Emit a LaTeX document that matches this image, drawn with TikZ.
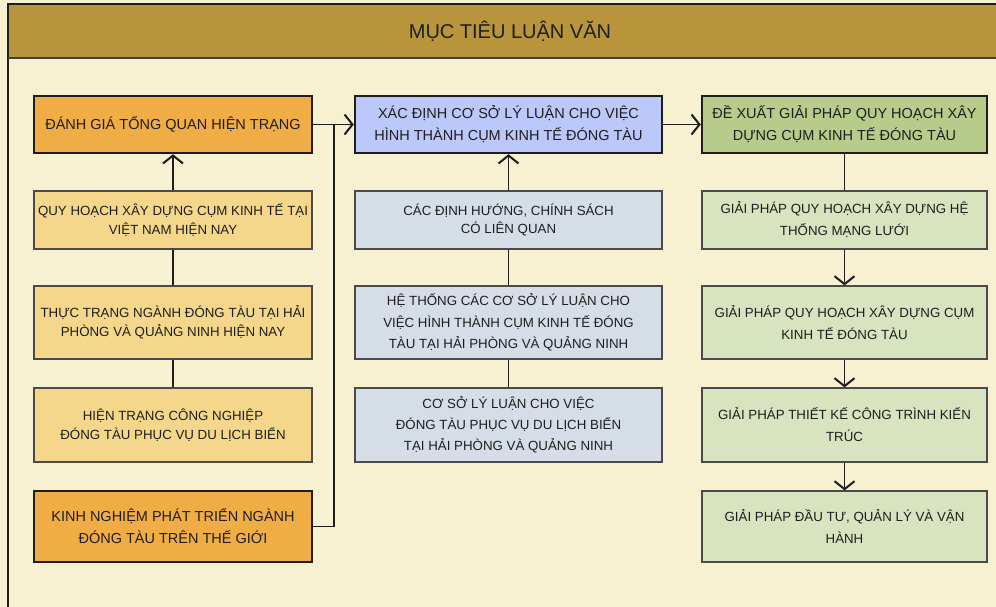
\documentclass[tikz,border=0pt]{standalone}
\usepackage{fontspec}
\setmainfont{Liberation Sans}
\usetikzlibrary{arrows.meta}

\definecolor{pagebg}{HTML}{F7F1D2}
\definecolor{bandgold}{HTML}{B8943A}
\definecolor{orangebox}{HTML}{F0AC45}
\definecolor{yellowbox}{HTML}{F4D78B}
\definecolor{bluehead}{HTML}{BCC8F9}
\definecolor{greyblue}{HTML}{D5DEE6}
\definecolor{greenhead}{HTML}{B7CB8B}
\definecolor{lightgreen}{HTML}{D8E4BF}
\definecolor{inkdark}{HTML}{1E1E1E}
\definecolor{edgegrey}{HTML}{4A4A4A}

\tikzset{
  headbox/.style={draw=inkdark, line width=2.4pt, rectangle, inner sep=0pt,
    align=center, text=inkdark, font=\fontsize{14.5}{22}\selectfont},
  subbox/.style={draw=edgegrey, line width=1.1pt, rectangle, inner sep=0pt,
    align=center, text=inkdark, font=\fontsize{13.3}{18.5}\selectfont},
  leftcol/.style={minimum width=278pt},
  midcol/.style={minimum width=307pt},
  rightcol/.style={minimum width=285pt},
  link/.style={draw=inkdark, line width=1.1pt},
  flow/.style={link, -{Straight Barb[length=8pt, width=20pt, line width=2pt]}},
}

\begin{document}
\begin{tikzpicture}[x=1pt, y=-1pt]
  % page and frame
  \useasboundingbox (0,0) rectangle (996,607);
  \fill[pagebg] (0,0) rectangle (996,607);
  \draw[edgegrey, line width=1.2pt] (8,59) -- (8,610);
  \fill[bandgold] (8,4) rectangle (1000,58);
  \draw[inkdark, line width=1.3pt] (8,610) -- (8,4) -- (1000,4);
  \draw[inkdark!85, line width=2pt] (8,58) -- (1000,58);
  \node[text=inkdark, font=\fontsize{20}{24}\selectfont] (title) at (510,31) {MỤC TIÊU LUẬN VĂN};

  % left column
  \node[headbox, leftcol, fill=orangebox, minimum height=57pt] (L1) at (173,124.5)
    {ĐÁNH GIÁ TỔNG QUAN HIỆN TRẠNG};
  \node[subbox, leftcol, fill=yellowbox, minimum height=58pt] (L2) at (173,220)
    {QUY HOẠCH XÂY DỰNG CỤM KINH TẾ TẠI\\VIỆT NAM HIỆN NAY};
  \node[subbox, leftcol, fill=yellowbox, minimum height=73pt] (L3) at (173,322.5)
    {THỰC TRẠNG NGÀNH ĐÓNG TÀU TẠI HẢI\\PHÒNG VÀ QUẢNG NINH HIỆN NAY};
  \node[subbox, leftcol, fill=yellowbox, minimum height=74pt] (L4) at (173,425)
    {HIỆN TRẠNG CÔNG NGHIỆP\\ĐÓNG TÀU PHỤC VỤ DU LỊCH BIỂN};
  \node[headbox, leftcol, fill=orangebox, minimum height=71pt] (L5) at (173,526.5)
    {KINH NGHIỆM PHÁT TRIỂN NGÀNH\\ĐÓNG TÀU TRÊN THẾ GIỚI};

  % middle column
  \node[headbox, midcol, fill=bluehead, minimum height=57pt] (M1) at (508.5,124.5)
    {XÁC ĐỊNH CƠ SỞ LÝ LUẬN CHO VIỆC\\HÌNH THÀNH CỤM KINH TẾ ĐÓNG TÀU};
  \node[subbox, midcol, fill=greyblue, minimum height=58pt] (M2) at (508.5,220)
    {CÁC ĐỊNH HƯỚNG, CHÍNH SÁCH\\CÓ LIÊN QUAN};
  \node[subbox, midcol, fill=greyblue, minimum height=73pt,
    font=\fontsize{13.3}{21.7}\selectfont] (M3) at (508.5,322.5)
    {HỆ THỐNG CÁC CƠ SỞ LÝ LUẬN CHO\\VIỆC HÌNH THÀNH CỤM KINH TẾ ĐÓNG\\TÀU TẠI HẢI PHÒNG VÀ QUẢNG NINH};
  \node[subbox, midcol, fill=greyblue, minimum height=74pt,
    font=\fontsize{13.3}{21}\selectfont] (M4) at (508.5,425)
    {CƠ SỞ LÝ LUẬN CHO VIỆC\\ĐÓNG TÀU PHỤC VỤ DU LỊCH BIỂN\\TẠI HẢI PHÒNG VÀ QUẢNG NINH};

  % right column
  \node[headbox, rightcol, fill=greenhead, minimum height=57pt] (R1) at (844.5,124.5)
    {ĐỀ XUẤT GIẢI PHÁP QUY HOẠCH XÂY\\DỰNG CỤM KINH TẾ ĐÓNG TÀU};
  \node[subbox, rightcol, fill=lightgreen, minimum height=58pt,
    font=\fontsize{13.3}{22}\selectfont] (R2) at (844.5,220)
    {GIẢI PHÁP QUY HOẠCH XÂY DỰNG HỆ\\THỐNG MẠNG LƯỚI};
  \node[subbox, rightcol, fill=lightgreen, minimum height=73pt,
    font=\fontsize{13.3}{22}\selectfont] (R3) at (844.5,322.5)
    {GIẢI PHÁP QUY HOẠCH XÂY DỰNG CỤM\\KINH TẾ ĐÓNG TÀU};
  \node[subbox, rightcol, fill=lightgreen, minimum height=74pt,
    font=\fontsize{13.3}{22}\selectfont] (R4) at (844.5,425)
    {GIẢI PHÁP THIẾT KẾ CÔNG TRÌNH KIẾN\\TRÚC};
  \node[subbox, rightcol, fill=lightgreen, minimum height=71pt,
    font=\fontsize{13.3}{22}\selectfont] (R5) at (844.5,526.5)
    {GIẢI PHÁP ĐẦU TƯ, QUẢN LÝ VÀ VẬN\\HÀNH};

  % connectors, left column
  \draw[link] (L4.north) -- (L3.south);
  \draw[link] (L3.north) -- (L2.south);
  \draw[flow] (L2.north) -- (L1.south);
  \coordinate (join) at (334,124.5);
  \draw[link] (L5.east) -| (join);
  \draw[flow] (L1.east) -- (M1.west);

  % connectors, middle column
  \draw[link] (M4.north) -- (M3.south);
  \draw[link] (M3.north) -- (M2.south);
  \draw[flow] (M2.north) -- (M1.south);
  \draw[flow] (M1.east) -- (R1.west);

  % connectors, right column
  \draw[link] (R1.south) -- (R2.north);
  \draw[flow] (R2.south) -- (R3.north);
  \draw[flow] (R3.south) -- (R4.north);
  \draw[flow] (R4.south) -- (R5.north);
\end{tikzpicture}
\end{document}
